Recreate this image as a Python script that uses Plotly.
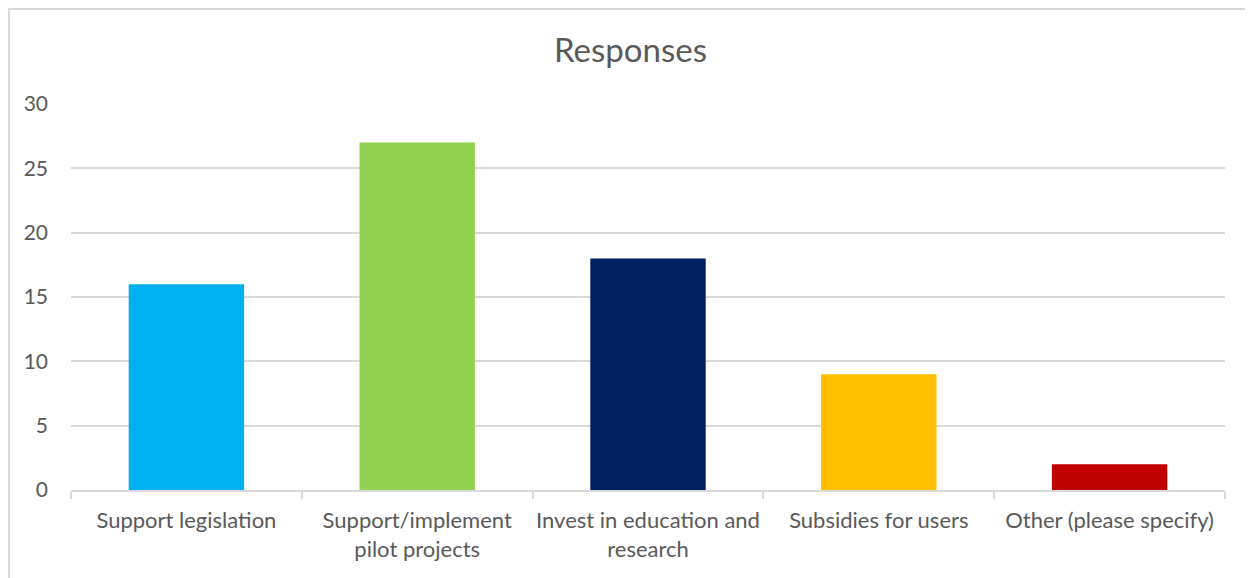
import plotly.graph_objects as go

categories = [
    "Support legislation",
    "Support/implement<br>pilot projects",
    "Invest in education and<br>research",
    "Subsidies for users",
    "Other (please specify)",
]
responses = [16, 27, 18, 9, 2]
bar_colors = ["#00B0F0", "#92D050", "#002060", "#FFC000", "#C00000"]

font_family = "Lato, 'Open Sans', sans-serif"
text_color = "#595959"
grid_color = "#D9D9D9"

fig = go.Figure(
    go.Bar(
        x=categories,
        y=responses,
        marker=dict(color=bar_colors, line=dict(width=0)),
        hoverinfo="x+y",
    )
)

# page body has an 8px margin, so the figure is drawn 8px in from the corner
off = 8
W, H = 1253 - off, 578 - off
# plot area in window pixels: x 71..1225, y 104..490
l, t = 71 - off, 104 - off
r, b = W - (1225 - off), H - (490 - off)
pw, ph = W - l - r, H - t - b

fig.update_layout(
    width=W,
    height=H,
    margin=dict(l=l, r=r, t=t, b=b, pad=0, autoexpand=False),
    paper_bgcolor="white",
    plot_bgcolor="white",
    bargap=0.5,
    showlegend=False,
    font=dict(family=font_family, color=text_color, size=22),
    title=dict(
        text="Responses",
        x=0.5,
        xanchor="center",
        y=1 - (50 - off) / H,
        yanchor="middle",
        font=dict(size=33, color=text_color, family=font_family),
    ),
    shapes=[
        # chart border (as close to the window corner as the page allows)
        dict(
            type="rect",
            xref="paper",
            yref="paper",
            x0=(1 - l) / pw,
            x1=(W + 10 - l) / pw,
            y0=-(b + 10) / ph,
            y1=(H - 1 - b) / ph,
            line=dict(color=grid_color, width=2),
            layer="below",
        )
    ],
)

fig.update_yaxes(
    range=[0, 30],
    tickvals=[0, 5, 10, 15, 20, 25, 30],
    showgrid=True,
    gridcolor=grid_color,
    gridwidth=1.5,
    zeroline=False,
    showline=False,
    ticks="",
    ticklabelstandoff=22,
    tickfont=dict(size=21, color=text_color),
    automargin=False,
)

fig.update_xaxes(
    showline=True,
    linecolor=grid_color,
    linewidth=1.5,
    ticks="outside",
    tickson="boundaries",
    ticklen=7,
    tickcolor=grid_color,
    tickwidth=1.5,
    tickangle=0,
    ticklabelstandoff=10,
    tickfont=dict(size=22, color=text_color),
    showgrid=False,
    automargin=False,
)

fig.write_html("out.html")
